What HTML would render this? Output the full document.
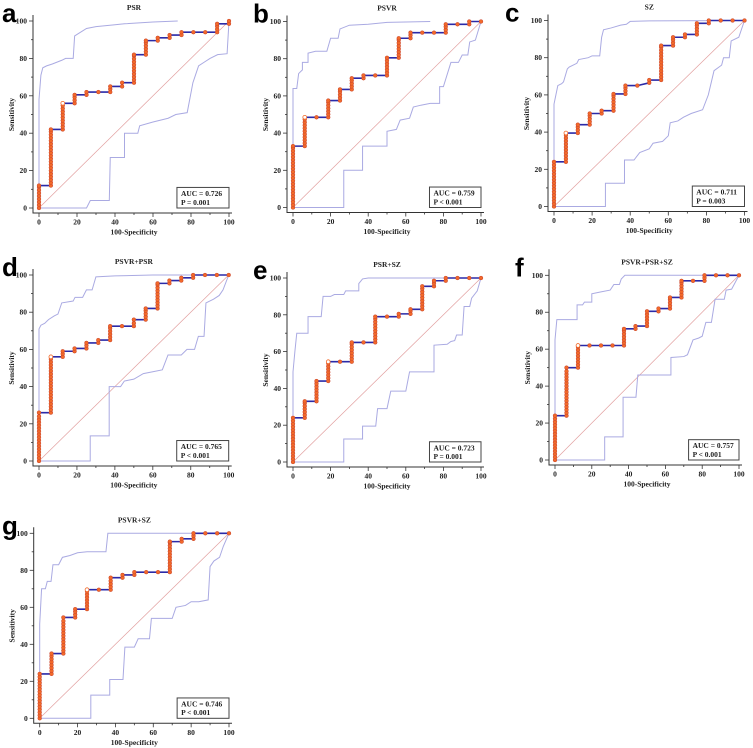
<!DOCTYPE html>
<html><head><meta charset="utf-8"><style>
html,body{margin:0;padding:0;background:#fff;}
svg{display:block;}
</style></head><body>
<svg id="fig" width="753" height="748" viewBox="0 0 753 748" xmlns="http://www.w3.org/2000/svg"></svg>
<script>
// ROC data: [100-specificity, sensitivity]
const psrRoc=[[0,0],[0,12],[6.25,12],[6.25,42],[12.5,42],[12.5,56],[18.75,56],[18.75,60.5],[25,60.5],[25,62],[37.5,62],[37.5,65],[43.75,65],[43.75,67],[50,67],[50,82],[56.25,82],[56.25,89.5],[62.5,89.5],[62.5,91],[68.75,91],[68.75,92.5],[75,92.5],[75,94],[93.75,94],[93.75,98.5],[100,98.5],[100,100]];
const psrUpper=[[0,0],[0,58],[1,71],[2,75],[4,76],[7,77],[12,79],[14,80],[18,80],[18.75,92],[25,96],[30,97],[40,98],[45,98.5],[60,99.5],[73,100]];
const psrLower=[[0,0],[25,0],[27,4],[37,4],[37.5,27],[45,27],[45,40],[52,40],[53,44],[60,46],[68,48],[72,50],[78,51],[81,67],[84,76],[87,78],[90,80],[94,82],[99,82.5],[100,100]];
const psrOpt=[12.5,56];

const psvrRoc=[[0,0],[0,33],[6.25,33],[6.25,48.5],[18.75,48.5],[18.75,57.5],[25,57.5],[25,63.5],[31.25,63.5],[31.25,69.5],[37.5,69.5],[37.5,71],[50,71],[50,80.5],[56.25,80.5],[56.25,91],[62.5,91],[62.5,94],[81.25,94],[81.25,98.5],[93.75,98.5],[93.75,100],[100,100]];
const psvrUpper=[[0,0],[0,64],[2,64],[3,72],[5,74],[5,78],[8,78],[8,83],[12,84],[18,84],[20,91],[24,91],[25,96],[30,98],[40,98.5],[50,99.5],[73,100]];
const psvrLower=[[0,0],[27,0],[27,20],[37,20],[37,33],[43,33],[50,33],[50,41],[55,42],[57,47],[62,48],[64,54],[68,55],[73,56],[78,56],[78,65],[80,65],[84,78],[88,78],[90,82],[93,82],[94,89],[97,90],[100,100]];
const psvrOpt=[6.25,48.5];

const szRoc=[[0,0],[0,24],[6.25,24],[6.25,39.5],[12.5,39.5],[12.5,44],[18.75,44],[18.75,50],[25,50],[25,51.5],[31.25,51.5],[31.25,60.5],[37.5,60.5],[37.5,65],[43.75,65],[50,66.5],[50,68],[56.25,68],[56.25,86.5],[62.5,86.5],[62.5,91],[68.75,91],[68.75,92.5],[75,92.5],[75,98.5],[81.25,98.5],[81.25,100],[100,100]];
const szUpper=[[0,0],[0,55],[1,60],[2,65],[4,66],[5,67],[7,74],[8,75],[12,77],[13,79],[18,80],[20,81],[24,81],[25,91],[26,95],[30,96],[35,97.5],[38,98],[40,99.5],[50,99.8],[100,100]];
const szLower=[[0,0],[27,0],[27,12.5],[37,12.5],[37,25],[42,25],[45,29],[50,31],[52,34],[57,35],[60,38],[61,45],[65,46],[68,48],[72,50],[78,52],[81,60],[84,73],[88,76],[89,80],[92,80],[93,89],[97,91],[100,100]];
const szOpt=[6.25,39.5];

const psvrPsrRoc=[[0,0],[0,26],[6.25,26],[6.25,56],[12.5,56],[12.5,59],[18.75,59],[18.75,60.5],[25,60.5],[25,63.5],[31.25,63.5],[31.25,65],[37.5,65],[37.5,72.5],[50,72.5],[50,76],[56.25,76],[56.25,82],[62.5,82],[62.5,95.5],[68.75,95.5],[68.75,97],[75,97],[75,98.5],[81.25,98.5],[81.25,100],[100,100]];
const psvrPsrUpper=[[0,0],[0,71],[1,73],[3,74],[5,76],[8,78],[10,79],[12,85],[18,86],[19,88],[23,88],[25,92],[28,92],[30,99],[40,99.5],[60,100],[100,100]];
const psvrPsrLower=[[0,0],[27,0],[27,13.5],[37,13.5],[37,40],[43,40],[45,43],[50,44],[55,47],[60,48],[65,49],[68,57],[75,57],[78,60],[82,60],[84,67],[87,67],[88,85],[92,87],[95,89],[97,92],[100,100]];
const psvrPsrOpt=[6.25,56];

const psrSzRoc=[[0,0],[0,24],[6.25,24],[6.25,33],[12.5,33],[12.5,44],[18.75,44],[18.75,54.5],[31.25,54.5],[31.25,65],[43.75,65],[43.75,79],[56.25,79],[56.25,80.5],[62.5,80.5],[62.5,83],[68.75,83],[68.75,95.5],[75,95.5],[75,98.5],[81.25,98.5],[81.25,100],[100,100]];
const psrSzUpper=[[0,0],[0,49],[1,60],[2,70],[8,70],[8,79],[15,79],[16,90],[20,90],[22,91],[27,91],[28,93],[35,93],[35,97],[37,99.5],[40,100],[100,100]];
const psrSzLower=[[0,0],[27,0],[27,12.5],[37,12.5],[37,19.5],[44,19.5],[45,29],[50,29],[52,38.5],[60,38.5],[62,49],[75,49],[75,63.5],[82,64],[84,65.5],[86,66],[87,69],[90,69],[91,84.5],[94,84.5],[95,89],[98,93],[100,100]];
const psrSzOpt=[18.75,54.5];

const allRoc=[[0,0],[0,24],[6.25,24],[6.25,50],[12.5,50],[12.5,62],[37.5,62],[37.5,71],[43.75,71],[43.75,72.5],[50,72.5],[50,80.5],[56.25,80.5],[56.25,82],[62.5,82],[62.5,88],[68.75,88],[68.75,97],[81.25,97],[81.25,100],[100,100]];
const allUpper=[[0,0],[0,65],[1,76],[12,76],[12,84],[15,84],[16,85.5],[20,85.5],[20,90],[25,91],[30,92],[32,95],[35,95],[36,98],[38,100],[100,100]];
const allLower=[[0,0],[27,0],[27,12.5],[37,12.5],[37,34],[44,34],[45,46],[63,46],[63,55.5],[70,56],[72,57],[75,65],[78,66],[80,67],[82,74.5],[85,74.5],[87,87],[92,87],[93,92],[96,92.5],[100,100]];
const allOpt=[12.5,62];

const psvrSzRoc=[[0,0],[0,24],[6.25,24],[6.25,35],[12.5,35],[12.5,54.5],[18.75,54.5],[18.75,59],[25,59],[25,69.5],[37.5,69.5],[37.5,76],[43.75,76],[43.75,77.5],[50,77.5],[50,79],[68.75,79],[68.75,95.5],[75,95.5],[75,97],[81.25,97],[81.25,100],[100,100]];
const psvrSzUpper=[[0,0],[0,51],[1,70],[3,70],[4,74],[6,74],[7,83],[10,83],[12,87],[16,88],[20,89.5],[25,90],[35,90],[36,100],[100,100]];
const psvrSzLower=[[0,0],[27,0],[27,12.5],[37,12.5],[37,21],[44,21],[45,38.5],[50,38.5],[52,43],[58,43],[59,54],[70,54],[72,60],[77,61],[80,63],[84,63],[89,64],[90,82],[92,85],[95,87],[97,93],[100,100]];
const psvrSzOpt=[25,69.5];

const tickValues=[0,20,40,60,80,100];
const panelTitles=["PSR","PSVR","SZ","PSVR+PSR","PSR+SZ","PSVR+PSR+SZ","PSVR+SZ"];
const panelLetters=["a","b","c","d","e","f","g"];
const aucTexts=["AUC = 0.726","AUC = 0.759","AUC = 0.711","AUC = 0.765","AUC = 0.723","AUC = 0.757","AUC = 0.746"];
const pTexts=["P = 0.001","P < 0.001","P = 0.003","P < 0.001","P = 0.001","P < 0.001","P < 0.001"];

const panels=[
 {roc:psrRoc,up:psrUpper,lo:psrLower,opt:psrOpt,box:[39,229,21,208],lx:2},
 {roc:psvrRoc,up:psvrUpper,lo:psvrLower,opt:psvrOpt,box:[293,481,21.5,207.5],lx:253},
 {roc:szRoc,up:szUpper,lo:szLower,opt:szOpt,box:[554,744.5,20.5,206.5],lx:505},
 {roc:psvrPsrRoc,up:psvrPsrUpper,lo:psvrPsrLower,opt:psvrPsrOpt,box:[39,228.7,275,461],lx:2},
 {roc:psrSzRoc,up:psrSzUpper,lo:psrSzLower,opt:psrSzOpt,box:[293,481,278,462],lx:253},
 {roc:allRoc,up:allUpper,lo:allLower,opt:allOpt,box:[555,739,275.3,460],lx:515},
 {roc:psvrSzRoc,up:psvrSzUpper,lo:psvrSzLower,opt:psvrSzOpt,box:[39.7,229,533.3,718.3],lx:2}
];
const NS="http://www.w3.org/2000/svg";
const svg=document.getElementById('fig');
function mk(tag,attrs,parent){const e=document.createElementNS(NS,tag);for(const k in attrs)e.setAttribute(k,attrs[k]);(parent||svg).appendChild(e);return e;}
const serif='"Liberation Serif", serif';

panels.forEach((p,i)=>{
 const [x0,x1,yT,yB]=p.box;
 const sx=v=>x0+(x1-x0)*v/100, sy=v=>yB-(yB-yT)*v/100;
 const g=mk('g',{});
 
 
 const letter=mk('text',{x:p.lx,y:yT+1,'font-family':'"Liberation Sans", sans-serif','font-weight':'bold','font-size':26,fill:'#000'},g);
 letter.textContent=panelLetters[i];
 
 
 const t=mk('text',{x:(x0+x1)/2,y:yT-11,'text-anchor':'middle','font-family':serif,'font-weight':'bold','font-size':7.5,fill:'#222'},g);
 t.textContent=panelTitles[i];
 
 
 const ax=x0-6, ay=yB+5;
 const axes=mk('path',{d:`M${ax},${yT-6}V${ay}H${x1+3}`,stroke:'#333',fill:'none','stroke-width':1},g);
 
 
 for(let v=0;v<=100;v+=10){
  const major=tickValues.includes(v);
  mk('line',{x1:ax-(major?4:2),x2:ax,y1:sy(v),y2:sy(v),stroke:'#333','stroke-width':0.8},g);
  mk('line',{x1:sx(v),x2:sx(v),y1:ay,y2:ay+(major?4:2),stroke:'#333','stroke-width':0.8},g);
 }
 tickValues.forEach(v=>{
  const yl=mk('text',{x:ax-6,y:sy(v)+2.5,'text-anchor':'end','font-family':serif,'font-weight':'bold','font-size':7.5,fill:'#222'},g);
  yl.textContent=v;
  
  
  const xl=mk('text',{x:sx(v),y:ay+11.5,'text-anchor':'middle','font-family':serif,'font-weight':'bold','font-size':7.5,fill:'#222'},g);
  xl.textContent=v;
  
  
 });
 const xt=mk('text',{x:(x0+x1)/2,y:ay+21.5,'text-anchor':'middle','font-family':serif,'font-weight':'bold','font-size':7.5,fill:'#222'},g);
 xt.textContent='100-Specificity';
 
 
 const ytx=ax-19, yty=(yT+yB)/2;
 const yt=mk('text',{x:ytx,y:yty,'text-anchor':'middle','font-family':serif,'font-weight':'bold','font-size':7.5,fill:'#222',transform:`rotate(-90 ${ytx} ${yty})`},g);
 yt.textContent='Sensitivity';
 
 
 const dg=mk('line',{x1:sx(0),y1:sy(0),x2:sx(100),y2:sy(100),stroke:'#e2a0a0','stroke-width':0.7},g);
 
 
 const pathOf=arr=>arr.map((q,j)=>(j?'L':'M')+sx(q[0]).toFixed(2)+','+sy(q[1]).toFixed(2)).join('');
 const up=mk('path',{d:pathOf(p.up),stroke:'#aaaae2',fill:'none','stroke-width':1},g);
 
 
 const lo=mk('path',{d:pathOf(p.lo),stroke:'#aaaae2',fill:'none','stroke-width':1},g);
 
 
 const rc=mk('path',{d:pathOf(p.roc),stroke:'#2a2aa8',fill:'none','stroke-width':1.6},g);
 
 
 const pts=[];
 for(let j=0;j<p.roc.length;j++){
  const a=p.roc[j];
  pts.push(a);
  if(j+1<p.roc.length){
   const b=p.roc[j+1];
   if(a[0]===b[0]){for(let y=a[1]+1.6;y<b[1]-0.5;y+=1.6)pts.push([a[0],y]);}
   else if(a[1]===b[1]){for(let k=1;k<16;k++){const x=k*6.25;if(x>a[0]+0.1&&x<b[0]-0.1)pts.push([x,a[1]]);}}
  }
 }
 pts.forEach(q=>{
  if(q[0]===p.opt[0]&&q[1]===p.opt[1])return;
  const c=mk('circle',{cx:sx(q[0]),cy:sy(q[1]),r:1.9,fill:'#f26a2a',stroke:'#c8402a','stroke-width':0.5},g);
  
  
 });
 const oc=mk('circle',{cx:sx(p.opt[0]),cy:sy(p.opt[1]),r:1.9,fill:'#fff',stroke:'#f26a2a','stroke-width':0.8},g);
 
 
 const bx=sx(72.6), by=sy(11), bw=sx(100)-bx, bh=sy(0)-by;
 const rb=mk('rect',{x:bx,y:by,width:bw,height:bh,fill:'#fff',stroke:'#444','stroke-width':1},g);
 
 
 const at=mk('text',{x:bx+4,y:by+bh*0.42,'font-family':serif,'font-weight':'bold','font-size':7.5,fill:'#222'},g);
 at.textContent=aucTexts[i];
 
 
 const pt=mk('text',{x:bx+4,y:by+bh*0.85,'font-family':serif,'font-weight':'bold','font-size':7.5,fill:'#222'},g);
 pt.textContent=pTexts[i];
 
 
});
</script>
</body></html>
